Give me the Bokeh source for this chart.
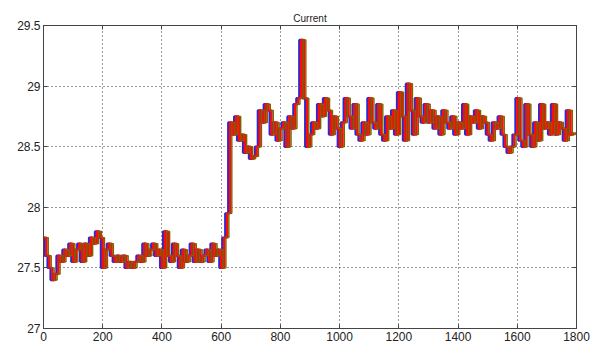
from bokeh.plotting import figure
from bokeh.models import Range1d, LinearAxis, FixedTicker, Title
from bokeh.embed import file_html
from bokeh.resources import INLINE

# sample positions (step of 10) and readings of the "Current" signal
t = list(range(0, 1800, 10))
current = [
    27.75, 27.60, 27.50, 27.40, 27.45, 27.60, 27.55, 27.65, 27.60, 27.70,
    27.55, 27.65, 27.70, 27.55, 27.70, 27.60, 27.75, 27.70, 27.80, 27.75,
    27.50, 27.65, 27.70, 27.60, 27.55, 27.60, 27.55, 27.60, 27.50, 27.55,
    27.50, 27.55, 27.60, 27.55, 27.70, 27.60, 27.65, 27.70, 27.60, 27.65,
    27.50, 27.80, 27.60, 27.55, 27.70, 27.60, 27.50, 27.65, 27.55, 27.60,
    27.70, 27.55, 27.65, 27.55, 27.60, 27.65, 27.55, 27.70, 27.60, 27.65,
    27.50, 27.75, 27.95, 28.70, 28.60, 28.75, 28.55, 28.60, 28.45, 28.50,
    28.40, 28.42, 28.50, 28.80, 28.70, 28.85, 28.80, 28.60, 28.70, 28.55,
    28.65, 28.70, 28.50, 28.75, 28.65, 28.85, 28.90, 29.38, 28.90, 28.50,
    28.60, 28.70, 28.65, 28.85, 28.75, 28.90, 28.80, 28.60, 28.75, 28.65,
    28.50, 28.70, 28.90, 28.75, 28.65, 28.85, 28.60, 28.55, 28.70, 28.60,
    28.90, 28.70, 28.65, 28.85, 28.60, 28.55, 28.75, 28.65, 28.80, 28.60,
    28.95, 28.75, 28.55, 29.02, 28.80, 28.60, 28.90, 28.75, 28.70, 28.85,
    28.70, 28.80, 28.65, 28.75, 28.60, 28.80, 28.70, 28.65, 28.75, 28.60,
    28.70, 28.65, 28.85, 28.60, 28.75, 28.70, 28.80, 28.65, 28.75, 28.70,
    28.60, 28.55, 28.70, 28.65, 28.75, 28.60, 28.50, 28.45, 28.50, 28.60,
    28.90, 28.55, 28.50, 28.85, 28.60, 28.50, 28.70, 28.55, 28.85, 28.65,
    28.70, 28.60, 28.85, 28.60, 28.70, 28.65, 28.55, 28.80, 28.60, 28.62,
]
series_names = ["blue", "red", "olive"]
series_shift = [-6, 0, 6]
series_colors = ["#2a2ad0", "#ff0a0a", "#7a6400"]
series_widths = [2.4, 2.4, 1.4]

x_ticks = list(range(0, 2000, 200))
y_ticks = [27, 27.5, 28, 28.5, 29, 29.5]

p = figure(width=592, height=350, output_backend="svg", toolbar_location=None,
           x_range=Range1d(0, 1800), y_range=Range1d(27, 29.5),
           min_border_left=43, min_border_right=16, min_border_top=25,
           min_border_bottom=22)
p.title = Title(text="Current", align="center", text_font="Liberation Sans",
                text_font_size="10px", text_font_style="normal",
                text_color="#222222", standoff=4)

p.background_fill_color = "white"
p.border_fill_color = "white"
p.outline_line_color = "#444444"
p.outline_line_width = 1

for name, sh, col, w in zip(series_names, series_shift, series_colors, series_widths):
    xs = [v + sh for v in t]
    p.step(xs, current, mode="after", line_color=col, line_width=w)

p.xaxis[0].ticker = FixedTicker(ticks=x_ticks)
p.yaxis[0].ticker = FixedTicker(ticks=y_ticks)
p.yaxis[0].major_label_overrides = {27: "27", 28: "28", 29: "29"}
for ax in (p.xaxis[0], p.yaxis[0]):
    ax.major_tick_in = 4
    ax.major_tick_out = 0
    ax.minor_tick_line_color = None
    ax.axis_line_color = "#444444"
    ax.major_tick_line_color = "#444444"
    ax.major_label_text_font = "Liberation Sans"
    ax.major_label_text_font_size = "12px"
    ax.major_label_text_color = "#222222"
    ax.major_label_standoff = 3

top = LinearAxis(ticker=FixedTicker(ticks=x_ticks),
                 major_label_overrides={v: "" for v in x_ticks})
right = LinearAxis(ticker=FixedTicker(ticks=y_ticks),
                   major_label_overrides={v: "" for v in y_ticks})
for ax in (top, right):
    ax.major_tick_in = 4
    ax.major_tick_out = 0
    ax.minor_tick_line_color = None
    ax.axis_line_color = "#444444"
    ax.major_tick_line_color = "#444444"
    ax.major_label_standoff = 0
p.add_layout(top, "above")
p.add_layout(right, "right")

p.xgrid.ticker = FixedTicker(ticks=x_ticks)
p.ygrid.ticker = FixedTicker(ticks=y_ticks)
for g in (p.xgrid, p.ygrid):
    g.grid_line_color = "#333333"
    g.grid_line_dash = "1 3"
    g.grid_line_width = 1

open("out.html", "w").write(file_html(p, INLINE))
